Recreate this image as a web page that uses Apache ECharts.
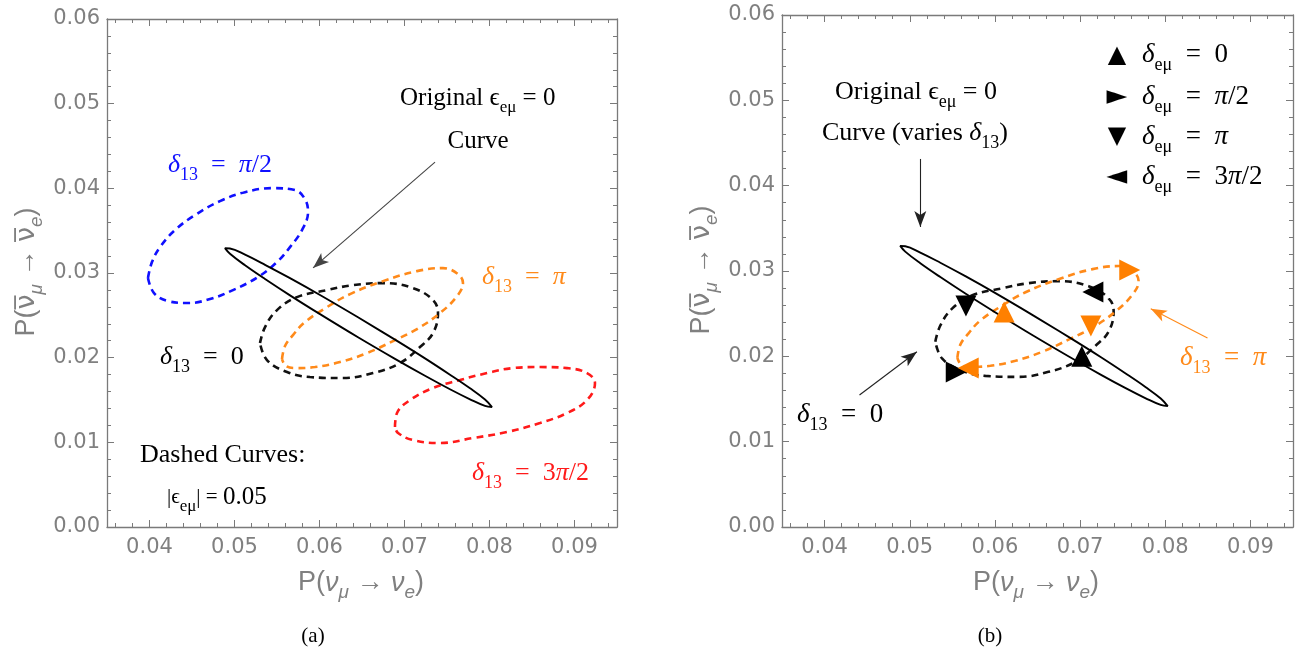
<!DOCTYPE html>
<html><head><meta charset="utf-8">
<script src="https://cdn.jsdelivr.net/npm/echarts@6/dist/echarts.min.js"></script>
<style>html,body{margin:0;padding:0;background:#fff}#c{width:1302px;height:654px}</style>
</head><body><div id="c"></div>
<script>
// ---------- axis ranges & ticks ----------
const xRange = [0.035, 0.095];
const yRange = [0, 0.06];
const xMajor = [0.04, 0.05, 0.06, 0.07, 0.08, 0.09];
const xMinor = [0.036,0.038,0.042,0.044,0.046,0.048,0.052,0.054,0.056,0.058,0.062,0.064,0.066,0.068,0.072,0.074,0.076,0.078,0.082,0.084,0.086,0.088,0.092,0.094];
const yMajor = [0, 0.01, 0.02, 0.03, 0.04, 0.05, 0.06];
const yMinor = [0.002,0.004,0.006,0.008,0.012,0.014,0.016,0.018,0.022,0.024,0.026,0.028,0.032,0.034,0.036,0.038,0.042,0.044,0.046,0.048,0.052,0.054,0.056,0.058];

// ---------- curves (x = P(nu_mu->nu_e), y = P(anti)) ----------
const originalCurve = [[0.06453,0.02477],[0.06888,0.02213],[0.07241,0.01992],[0.07535,0.01799],[0.07771,0.01638],[0.07947,0.01505],[0.08029,0.01417],[0.07947,0.01430],[0.07771,0.01508],[0.07535,0.01627],[0.07241,0.01786],[0.06888,0.01986],[0.06453,0.02241],[0.06006,0.02514],[0.05653,0.02736],[0.05359,0.02929],[0.05124,0.03091],[0.04947,0.03227],[0.04888,0.03294],[0.04947,0.03290],[0.05124,0.03216],[0.05359,0.03097],[0.05653,0.02939],[0.06006,0.02740]];
const d13Zero = [[0.05300,0.02172],[0.05359,0.02361],[0.05500,0.02562],[0.05735,0.02715],[0.06088,0.02798],[0.06394,0.02857],[0.06747,0.02881],[0.07100,0.02822],[0.07335,0.02680],[0.07394,0.02527],[0.07335,0.02290],[0.07182,0.02125],[0.06947,0.01936],[0.06629,0.01818],[0.06276,0.01759],[0.05888,0.01771],[0.05618,0.01830],[0.05382,0.01972]];
const d13Pi = [[0.05559,0.01983],[0.05594,0.02137],[0.05688,0.02267],[0.05829,0.02420],[0.06088,0.02597],[0.06359,0.02751],[0.06747,0.02904],[0.07147,0.03022],[0.07453,0.03058],[0.07629,0.02987],[0.07688,0.02881],[0.07618,0.02727],[0.07418,0.02527],[0.07147,0.02338],[0.06865,0.02196],[0.06559,0.02054],[0.06241,0.01948],[0.05947,0.01889],[0.05724,0.01877],[0.05606,0.01901]];
const d13HalfPi = [[0.03982,0.02940],[0.04029,0.03129],[0.04124,0.03306],[0.04300,0.03507],[0.04535,0.03684],[0.04829,0.03849],[0.05124,0.03955],[0.05441,0.04002],[0.05712,0.03979],[0.05829,0.03872],[0.05865,0.03719],[0.05794,0.03507],[0.05653,0.03306],[0.05500,0.03129],[0.05276,0.02952],[0.04982,0.02798],[0.04712,0.02692],[0.04453,0.02645],[0.04218,0.02668],[0.04053,0.02763]];
const d13ThreeHalfPi = [[0.06888,0.01181],[0.06912,0.01346],[0.07065,0.01499],[0.07335,0.01641],[0.07653,0.01736],[0.07971,0.01818],[0.08276,0.01877],[0.08594,0.01889],[0.08912,0.01877],[0.09147,0.01818],[0.09241,0.01700],[0.09147,0.01499],[0.08912,0.01346],[0.08594,0.01228],[0.08206,0.01122],[0.07806,0.01051],[0.07418,0.00992],[0.07100,0.01027],[0.06924,0.01110]];

// ---------- markers (panel b): order δeμ = 0, π/2, π, 3π/2 ----------
const markerBlack = [[0.0702,0.0200],[0.05546,0.01816],[0.0566,0.0259],[0.0715,0.02754]];
const markerOrange = [[0.06108,0.0252],[0.07583,0.03012],[0.07127,0.02356],[0.05686,0.01863]];
const markerRotate = [0, -90, 180, 90];

// ---------- annotation arrows [from, to] ----------
const arrowA = [[0.07359,0.04309],[0.05924,0.03060]];
const arrowB1 = [[0.05124,0.04313],[0.05124,0.03516]];
const arrowB2 = [[0.04410,0.01547],[0.05084,0.02053]];
const arrowB3 = [[0.08496,0.02215],[0.07830,0.02558]];

const SERIF = '"Liberation Serif","Times New Roman",serif';
const SANS = '"DejaVu Sans",sans-serif';
const TSANS = '"Liberation Sans",Arial,sans-serif';
const FRAME = '#7a7a7a';
const LABEL = '#808080';
const ORANGE = '#ff8a1a';
const BLUE = '#1010ff';
const RED = '#ff1a1a';

const close = a => a.concat([a[0]]);

const grids = [
  {left:107, top:19, width:510, height:508},
  {left:107, top:19, width:510, height:508},
  {left:782, top:15, width:511, height:512},
  {left:782, top:15, width:511, height:512}
];

const xAxis = [], yAxis = [];
grids.forEach((g, gi) => {
  const minor = gi % 2 === 1;
  const vals = minor ? xMinor : xMajor;
  const yvals = minor ? yMinor : yMajor;
  const len = minor ? 4 : 7;
  ['bottom','top'].forEach(pos => {
    xAxis.push({
      gridIndex: gi, type:'value', position: pos, min:xRange[0], max:xRange[1],
      splitLine:{show:false},
      axisLine:{show: !minor, onZero:false, lineStyle:{color:FRAME, width:1.3}},
      axisTick:{show:true, inside:true, length:len, customValues: vals, lineStyle:{color:FRAME, width:1}},
      axisLabel: (!minor && pos==='bottom') ? {show:true, customValues:xMajor, formatter:v=>v.toFixed(2), margin:10, color:LABEL, fontFamily:SANS, fontSize:21} : {show:false}
    });
  });
  ['left','right'].forEach(pos => {
    yAxis.push({
      gridIndex: gi, type:'value', position: pos, min:yRange[0], max:yRange[1],
      splitLine:{show:false},
      axisLine:{show: !minor, onZero:false, lineStyle:{color:FRAME, width:1.3}},
      axisTick:{show:true, inside:true, length:len, customValues: yvals, lineStyle:{color:FRAME, width:1}},
      axisLabel: (!minor && pos==='left') ? {show:true, customValues:yMajor, formatter:v=>v.toFixed(2), margin:7, color:LABEL, fontFamily:SANS, fontSize:21} : {show:false}
    });
  });
});

function curve(data, color, dashed, ai, extra) {
  return Object.assign({
    type:'line', xAxisIndex:ai, yAxisIndex:ai, data: close(data), symbol:'none', showSymbol:false,
    smooth:0.4, silent:true, animation:false,
    lineStyle:{color, width: dashed ? 2.6 : 1.9, type: dashed ? [7,5] : 'solid', cap:'butt'},
    z: dashed ? 2 : 3
  }, extra || {});
}
function arrowML(list, color) {
  return {
    silent:true, animation:false, symbol:['none','arrow'], symbolSize:[9,16], label:{show:false},
    lineStyle:{color, width:1.1, type:'solid'}, itemStyle:{color},
    data: list.map(arr => [{coord:arr[0]},{coord:arr[1]}])
  };
}
function markers(pts, color, ai) {
  return {
    type:'scatter', xAxisIndex:ai, yAxisIndex:ai, silent:true, animation:false, z:5,
    symbol:'triangle', symbolSize:21, itemStyle:{color, opacity:1},
    data: pts.map((p,i)=>({value:p, symbolRotate: markerRotate[i]}))
  };
}

const series = [
  curve(d13HalfPi, BLUE, true, 0),
  curve(d13Zero, '#111', true, 0),
  curve(d13Pi, ORANGE, true, 0),
  curve(d13ThreeHalfPi, RED, true, 0),
  curve(originalCurve, '#000', false, 0, {markLine: arrowML([arrowA], '#444')}),
  curve(d13Zero, '#111', true, 4, {markLine: arrowML([arrowB1, arrowB2], '#222')}),
  curve(d13Pi, ORANGE, true, 4, {markLine: arrowML([arrowB3], ORANGE)}),
  curve(originalCurve, '#000', false, 4),
  markers(markerBlack, '#000', 4),
  markers(markerOrange, '#ff8000', 4)
];

function serifRich(size, color) {
  const lh = Math.round(size * 1.45);
  const sub = Math.round(size * 0.68);
  return {
    n:{fontFamily:SERIF, fontSize:size, lineHeight:lh, fill:color},
    i:{fontFamily:SERIF, fontSize:size, fontStyle:'italic', lineHeight:lh, fill:color},
    m:{fontFamily:SERIF, fontSize:Math.round(size*0.82), lineHeight:lh, fill:color},
    s:{fontFamily:SERIF, fontSize:sub, lineHeight:sub, verticalAlign:'bottom', fill:color}
  };
}
function sansRich(size, color) {
  const lh = Math.round(size * 1.45);
  const sub = Math.round(size * 0.7);
  return {
    n:{fontFamily:TSANS, fontSize:size, lineHeight:lh, fill:color},
    i:{fontFamily:TSANS, fontSize:size, fontStyle:'italic', lineHeight:lh, fill:color},
    b:{fontFamily:SANS, fontSize:size, lineHeight:lh, fill:color},
    s:{fontFamily:TSANS, fontSize:sub, fontStyle:'italic', lineHeight:sub, verticalAlign:'bottom', fill:color}
  };
}
function txt(x, y, text, rich, align, extra) {
  return Object.assign({
    type:'text', x, y, silent:true, z:100,
    style:{text, rich, fill:'#000', align: align||'left', verticalAlign:'middle', textAlign: align||'left', textVerticalAlign:'middle'}
  }, extra || {});
}
function glyph(x, y, ch, size) {
  return {type:'text', x, y, silent:true, z:100, style:{text:ch, fill:'#000', font:size+'px '+SANS, align:'center', verticalAlign:'middle', textAlign:'center', textVerticalAlign:'middle'}};
}

const EQ = '\u2002=\u2002';
const xTitle = '{n|P(}{i|ν}{s|μ}{n| → }{i|ν}{s|e}{n|)}';
const yTitle = '{n|P(}{b|ν\u0305}{s|μ}{n| → }{b|ν\u0305}{s|e}{n|)}';

const graphic = [
  // panel (a)
  txt(400, 98, '{n|Original }{n|ϵ}{s|eμ}{n| = 0}', serifRich(25,'#000')),
  txt(478, 141, '{n|Curve}', serifRich(25,'#000'), 'center'),
  txt(168, 165, '{i|δ}{s|13}{n|'+EQ+'}{i|π}{n|/2}', serifRich(26,BLUE)),
  txt(482, 277, '{i|δ}{s|13}{n|'+EQ+'}{i|π}', serifRich(26,ORANGE)),
  txt(160, 357, '{i|δ}{s|13}{n|'+EQ+'0}', serifRich(26,'#000')),
  txt(140, 455, '{n|Dashed Curves:}', serifRich(26,'#000')),
  txt(167, 497, '{m||ϵ}{s|eμ}{m|| = }{n|0.05}', serifRich(25,'#000')),
  txt(472, 473, '{i|δ}{s|13}{n|'+EQ+'3}{i|π}{n|/2}', serifRich(26,RED)),
  txt(361, 583, xTitle, sansRich(27, LABEL), 'center'),
  txt(27, 272, yTitle, sansRich(27, LABEL), 'center', {rotation: Math.PI/2}),
  txt(313, 636, '{n|(a)}', serifRich(21,'#000'), 'center'),
  // panel (b)
  txt(835, 92, '{n|Original }{n|ϵ}{s|eμ}{n| = 0}', serifRich(26,'#000')),
  txt(822, 133, '{n|Curve (varies }{i|δ}{s|13}{n|)}', serifRich(26,'#000')),
  glyph(1117, 56, '▲', 24), glyph(1117, 97, '►', 27), glyph(1117, 137, '▼', 24), glyph(1117, 177, '◄', 27),
  txt(1142, 55, '{i|δ}{s|eμ}{n|'+EQ+'0}', serifRich(27,'#000')),
  txt(1142, 97, '{i|δ}{s|eμ}{n|'+EQ+'}{i|π}{n|/2}', serifRich(27,'#000')),
  txt(1142, 137, '{i|δ}{s|eμ}{n|'+EQ+'}{i|π}', serifRich(27,'#000')),
  txt(1142, 177, '{i|δ}{s|eμ}{n|'+EQ+'3}{i|π}{n|/2}', serifRich(27,'#000')),
  txt(797, 415, '{i|δ}{s|13}{n|'+EQ+'0}', serifRich(27,'#000')),
  txt(1180, 358, '{i|δ}{s|13}{n|'+EQ+'}{i|π}', serifRich(27,ORANGE)),
  txt(1036, 583, xTitle, sansRich(27, LABEL), 'center'),
  txt(702, 270, yTitle, sansRich(27, LABEL), 'center', {rotation: Math.PI/2}),
  txt(990, 636, '{n|(b)}', serifRich(21,'#000'), 'center')
];

const chart = echarts.init(document.getElementById('c'), null, {renderer:'canvas'});
chart.setOption({
  animation:false,
  backgroundColor:'#fff',
  grid: grids.map(g => Object.assign({containLabel:false, outerBoundsMode:'none'}, g)),
  xAxis, yAxis, series, graphic
});
</script></body></html>
